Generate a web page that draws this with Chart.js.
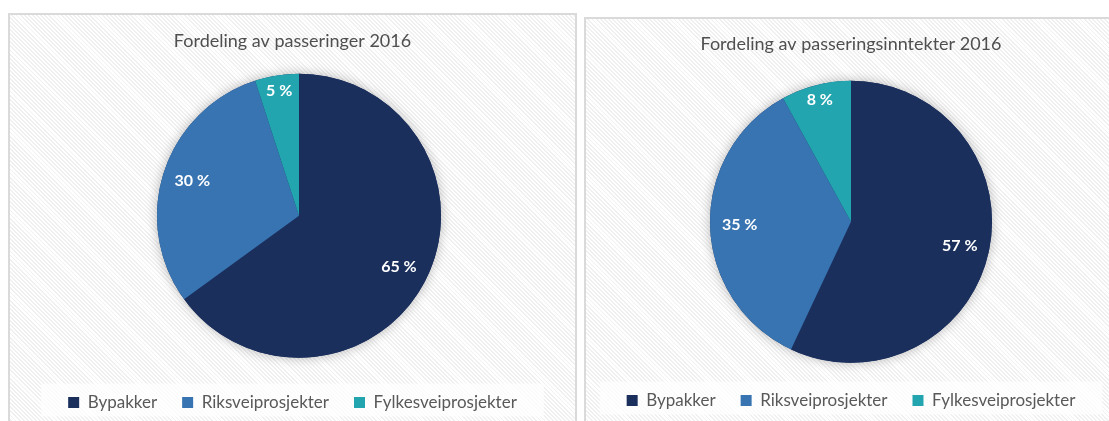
<!DOCTYPE html>
<html>
<head>
<meta charset="utf-8">
<script src="https://cdn.jsdelivr.net/npm/chart.js@4.4.0/dist/chart.umd.min.js"></script>
<style>
  body { margin: 0; background: #fff; width: 1109px; height: 421px; overflow: hidden; position: relative; }
  .panel {
    position: absolute; box-sizing: border-box; border: 2px solid #dadada;
    background: repeating-linear-gradient(45deg, #ffffff 0px, #ffffff 1.6px, #f0f0f0 1.6px, #f0f0f0 2.9px);
  }
  #p1 { left: 8px; top: 13px; width: 569px; height: 440px; }
  #p2 { left: 584px; top: 17px; width: 580px; height: 440px; }
  canvas { position: absolute; left: 0; top: 0; }
</style>
</head>
<body>
<div class="panel" id="p1"><canvas id="chart1" width="565" height="406"></canvas></div>
<div class="panel" id="p2"><canvas id="chart2" width="530" height="402"></canvas></div>
<script>
// data
const categories = ["Bypakker", "Riksveiprosjekter", "Fylkesveiprosjekter"];
const passeringer = [65, 30, 5];
const inntekter = [57, 35, 8];
const colors = ["#1b2f5d", "#3774b1", "#23a5b0"];

const FONT = "Lato";

// nudge the pie sideways inside its chart area
const pieShift = {
    id: "pieShift",
    afterLayout(chart, args, opts) {
        if (!opts.dx) return;
        chart.chartArea.left += opts.dx;
        chart.chartArea.right += opts.dx;
    }
};

// soft shadow behind the pie
const pieShadow = {
    id: "pieShadow",
    beforeDatasetsDraw(chart) {
        const arc = chart.getDatasetMeta(0).data[0];
        if (!arc) return;
        const ctx = chart.ctx;
        ctx.save();
        ctx.shadowColor = "rgba(0,0,0,0.28)";
        ctx.shadowBlur = 12;
        ctx.beginPath();
        ctx.arc(arc.x, arc.y, arc.outerRadius, 0, Math.PI * 2);
        ctx.fillStyle = colors[0];
        ctx.fill();
        ctx.restore();
    }
};

// percent labels inside the slices
const sliceLabels = {
    id: "sliceLabels",
    afterDatasetsDraw(chart) {
        const ctx = chart.ctx;
        const values = chart.data.datasets[0].data;
        const total = values.reduce((a, b) => a + b, 0);
        ctx.save();
        ctx.fillStyle = "#ffffff";
        ctx.font = "bold 16px " + FONT;
        ctx.textAlign = "center";
        ctx.textBaseline = "middle";
        chart.getDatasetMeta(0).data.forEach((arc, i) => {
            const mid = (arc.startAngle + arc.endAngle) / 2;
            const f = values[i] / total < 0.1 ? 0.89 : 0.79;
            const x = arc.x + Math.cos(mid) * arc.outerRadius * f;
            const y = arc.y + Math.sin(mid) * arc.outerRadius * f;
            ctx.fillText(values[i] + " %", x, y);
        });
        ctx.restore();
    }
};

// lighter box behind the legend
const legendBox = {
    id: "legendBox",
    beforeDraw(chart) {
        const boxes = chart.legend.legendHitBoxes;
        if (!boxes || !boxes.length) return;
        const first = boxes[0], last = boxes[boxes.length - 1];
        const cy = first.top + first.height / 2;
        const ctx = chart.ctx;
        ctx.save();
        ctx.fillStyle = "rgba(255,255,255,0.7)";
        ctx.fillRect(first.left - 27, cy - 19, last.left + last.width + 27 - (first.left - 27), 33);
        ctx.restore();
    }
};

function makePie(id, title, values, o) {
    return new Chart(document.getElementById(id), {
        type: "pie",
        data: {
            labels: categories,
            datasets: [{ data: values, backgroundColor: colors, borderWidth: 0, radius: o.radius }]
        },
        options: {
            responsive: false,
            animation: false,
            layout: { padding: { bottom: o.bottom } },
            plugins: {
                title: {
                    display: true, text: title, color: "#4f4f4f",
                    font: { family: FONT, size: 18, weight: "normal" },
                    padding: { top: o.titleTop, bottom: o.titleBottom }
                },
                legend: {
                    position: "bottom",
                    labels: {
                        boxWidth: 11, boxHeight: 11, padding: 25, color: "#595959",
                        font: { family: FONT, size: 17 }
                    }
                },
                tooltip: { enabled: false },
                pieShift: { dx: o.dx }
            }
        },
        plugins: [pieShift, legendBox, pieShadow, sliceLabels]
    });
}

makePie("chart1", "Fordeling av passeringer 2016", passeringer,
    { radius: 142, dx: 6.5, bottom: 0, titleTop: 15, titleBottom: 11 });
makePie("chart2", "Fordeling av passeringsinntekter 2016", inntekter,
    { radius: 141, dx: 0, bottom: 2, titleTop: 14, titleBottom: 22 });
</script>
</body>
</html>
